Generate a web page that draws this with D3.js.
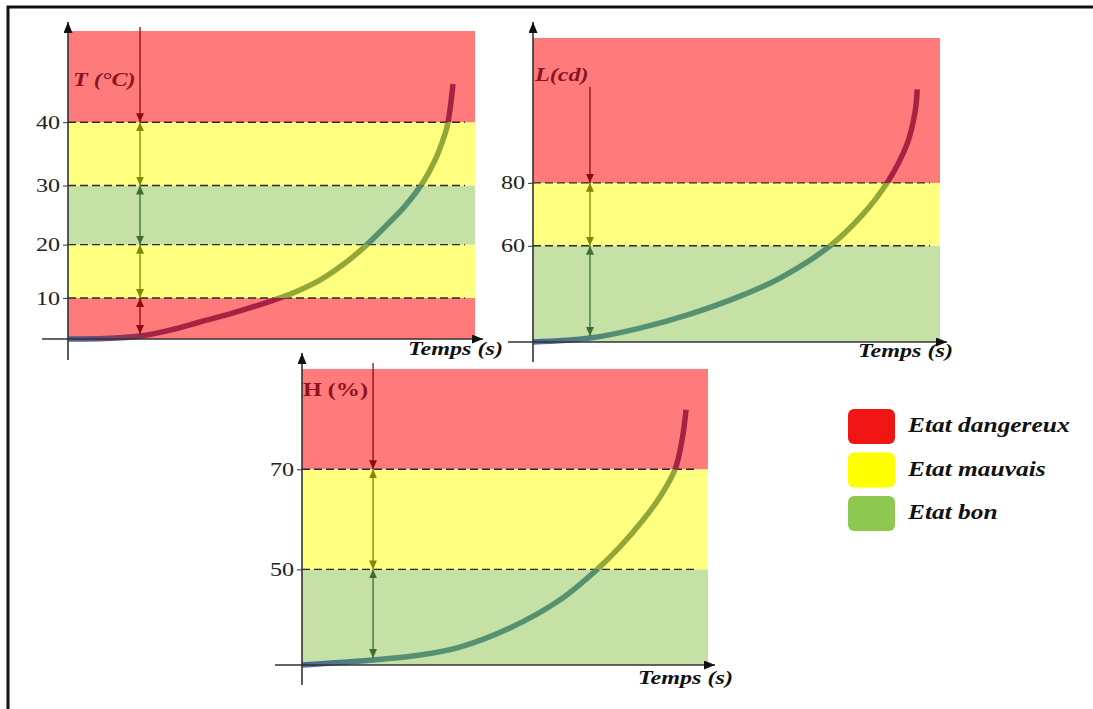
<!DOCTYPE html>
<html>

<head>
    <title>Etats des capteurs</title>
    <script src="https://cdn.jsdelivr.net/npm/d3@7"></script>
    <style>
        body {
            margin: 0;
            background: #fff;
        }

        text {
            font-family: "Liberation Serif", "Times New Roman", serif;
        }
    </style>
</head>

<body>
    <script>
        // zone limits and states for each sensor
        const tempBounds = [0, 10, 20, 30, 40, 53.6];
        const tempStates = ["danger", "bad", "good", "bad", "danger"];
        const lumBounds = [0, 60, 80, 115.8];
        const lumStates = ["good", "bad", "danger"];
        const humBounds = [0, 50, 70, 85];
        const humStates = ["good", "bad", "danger"];

        // curves (time 0-100)
        const tempTime = [0, 9.1, 17.7, 25.1, 32.4, 42.3, 52.1, 57, 61.9, 68.1, 73, 77.9, 82.8, 87.2, 90.2, 92.1, 93.1, 93.9, 94.3, 94.6];
        const tempValues = [0, 0.25, 1.13, 2.8, 4.8, 7.3, 10, 11.6, 13.5, 16.7, 19.7, 23.1, 26.6, 30.5, 34.1, 37.2, 39.2, 42.1, 44.1, 45.8];
        const lumTime = [0, 14, 26.3, 38.6, 50.9, 60.7, 73, 81.1, 87, 91.9, 93.9, 94.4];
        const lumValues = [0, 9.7, 19.9, 29.6, 39.3, 47.5, 60, 70.6, 80, 90.6, 98.9, 104.2];
        const humTime = [0, 17.5, 29.1, 38.9, 51.2, 63.5, 72.7, 78.3, 84, 88.2, 91.9, 93.6, 94.6];
        const humValues = [0, 12.5, 17.3, 22.8, 32, 41.7, 50, 55.2, 60.8, 65.2, 70, 74.7, 79.3];

        const legendLabels = ["Etat dangereux", "Etat mauvais", "Etat bon"];
        const legendStates = ["danger", "bad", "good"];

        const bandColor = { danger: "#ff7b7b", bad: "#ffff80", good: "#c5e1a5" };
        const curveColor = { danger: "#9e1c3c", bad: "#8aa032", good: "#4c8a6d" };
        const arrowColor = { danger: "#8b0a0a", bad: "#7f8a00", good: "#3f6e35" };
        const legendColor = { danger: "#f01414", bad: "#ffff00", good: "#8dc850" };

        const width = 1093;
        const height = 709;

        const svg = d3.select('body')
            .append('svg')
            .attr('width', width)
            .attr('height', height)
        const defs = svg.append('defs')

        // text in the picture is stretched sideways
        function stretch(sel, k = 1.27) {
            sel.each(function () {
                const w = this.getComputedTextLength();
                d3.select(this).attr('textLength', w * k).attr('lengthAdjust', 'spacingAndGlyphs')
            })
        }

        function marker(id, color, w, l) {
            defs.append('marker')
                .attr('id', id)
                .attr('viewBox', '0 0 10 10')
                .attr('refX', 10).attr('refY', 5)
                .attr('markerUnits', 'userSpaceOnUse')
                .attr('markerWidth', l).attr('markerHeight', w)
                .attr('orient', 'auto-start-reverse')
                .attr('preserveAspectRatio', 'none')
                .append('path')
                .attr('d', 'M0,0 L10,5 L0,10 z')
                .attr('fill', color)
        }
        marker('axis-head', '#111', 9, 11)
        Object.keys(arrowColor).forEach(s => marker('head-' + s, arrowColor[s], 8, 9))

        // frame (only top and left edges are visible)
        svg.append('path')
            .attr('d', 'M8,709 V7 H1093')
            .attr('fill', 'none')
            .attr('stroke', '#111')
            .attr('stroke-width', 3)

        const panels = [
            {
                id: 'T', bounds: tempBounds, states: tempStates, time: tempTime, values: tempValues,
                expo: 1.2, x0: 68, x1: 475, yBase: 339, yTop: 31, axisTop: 22, axisBottom: 360,
                xLeft: 42, xRight: 483, label: 'T (°C)', labelItalic: true, labelX: 73, labelY: 86,
                arrowAt: 2, arrowTop: 27, timeX: 408, timeY: 355
            },
            {
                id: 'L', bounds: lumBounds, states: lumStates, time: lumTime, values: lumValues,
                expo: 1.75, x0: 533, x1: 940, yBase: 342, yTop: 38, axisTop: 22, axisBottom: 362,
                xLeft: 508, xRight: 947, label: 'L(cd)', labelItalic: true, labelX: 535, labelY: 81,
                arrowAt: 1, arrowTop: 87, timeX: 858, timeY: 357
            },
            {
                id: 'H', bounds: humBounds, states: humStates, time: humTime, values: humValues,
                expo: 2.13, x0: 302, x1: 708, yBase: 665, yTop: 369, axisTop: 353, axisBottom: 685,
                xLeft: 275, xRight: 715, label: 'H (%)', labelItalic: false, labelX: 303, labelY: 396,
                arrowAt: 1, arrowTop: 363, timeX: 638, timeY: 684
            }
        ]

        panels.forEach(p => {
            const g = svg.append('g')
            const x = d3.scaleLinear().domain([0, 100]).range([p.x0, p.x1])
            const y = d3.scalePow().exponent(p.expo)
                .domain([0, p.bounds[p.bounds.length - 1]])
                .range([p.yBase, p.yTop])
            const zones = p.states.map((s, i) => ({ state: s, lo: p.bounds[i], hi: p.bounds[i + 1], i: i }))
            const last = zones.length - 1

            // coloured bands
            g.selectAll('rect.band')
                .data(zones)
                .enter()
                .append('rect')
                .attr('class', 'band')
                .attr('x', p.x0)
                .attr('width', p.x1 - p.x0)
                .attr('y', d => y(d.hi))
                .attr('height', d => y(d.lo) - y(d.hi))
                .attr('fill', d => bandColor[d.state])

            // threshold lines
            const limits = p.bounds.slice(1, -1)
            g.selectAll('line.limit')
                .data(limits)
                .enter()
                .append('line')
                .attr('x1', p.x0).attr('x2', p.x1 - 10)
                .attr('y1', d => y(d)).attr('y2', d => y(d))
                .attr('stroke', '#2a2a2a')
                .attr('stroke-width', 1.4)
                .attr('stroke-dasharray', '8,4')

            // curve, coloured by the band it crosses
            const line = d3.line()
                .x((d, i) => x(p.time[i]))
                .y(d => y(d))
                .curve(d3.curveCatmullRom.alpha(0.5))
            zones.forEach(z => {
                const cid = 'clip-' + p.id + z.i
                defs.append('clipPath').attr('id', cid)
                    .append('rect')
                    .attr('x', p.x0 - 10)
                    .attr('width', p.x1 - p.x0 + 20)
                    .attr('y', z.i === last ? 0 : y(z.hi))
                    .attr('height', (z.i === 0 ? height : y(z.lo)) - (z.i === last ? 0 : y(z.hi)))
                const gid = 'grad-' + p.id + z.i
                const grad = defs.append('linearGradient').attr('id', gid)
                    .attr('gradientUnits', 'userSpaceOnUse')
                    .attr('x1', p.x0).attr('x2', p.x0 + 85)
                    .attr('y1', 0).attr('y2', 0)
                grad.append('stop').attr('offset', 0).attr('stop-color', '#3a5d96')
                grad.append('stop').attr('offset', 1).attr('stop-color', curveColor[z.state])
                g.append('path')
                    .datum(p.values)
                    .attr('d', line)
                    .attr('clip-path', 'url(#' + cid + ')')
                    .attr('fill', 'none')
                    .attr('stroke', 'url(#' + gid + ')')
                    .attr('stroke-width', 5.5)
                    .attr('stroke-opacity', 0.92)
            })

            // zone arrows
            const ax = x(p.time[p.arrowAt])
            const bottom = y(p.values[p.arrowAt]) - 2
            g.selectAll('line.zone')
                .data(zones)
                .enter()
                .append('line')
                .attr('x1', ax).attr('x2', ax)
                .attr('y1', d => d.i === last ? p.arrowTop : y(d.hi))
                .attr('y2', d => d.i === 0 ? bottom : y(d.lo))
                .attr('stroke', d => arrowColor[d.state])
                .attr('stroke-width', 1.3)
                .attr('marker-start', d => d.i === last ? null : 'url(#head-' + d.state + ')')
                .attr('marker-end', d => 'url(#head-' + d.state + ')')

            // axes
            g.append('line')
                .attr('x1', p.x0).attr('x2', p.x0)
                .attr('y1', p.axisBottom).attr('y2', p.axisTop)
                .attr('stroke', '#333').attr('stroke-width', 1.6)
                .attr('marker-end', 'url(#axis-head)')
            g.append('line')
                .attr('x1', p.xLeft).attr('x2', p.xRight)
                .attr('y1', p.yBase).attr('y2', p.yBase)
                .attr('stroke', '#333').attr('stroke-width', 1.6)
                .attr('marker-end', 'url(#axis-head)')

            const yAxis = g.append('g')
                .attr('transform', 'translate(' + p.x0 + ',0)')
                .call(d3.axisLeft(y).tickValues(limits).tickSize(5).tickPadding(3).tickSizeOuter(0))
            yAxis.select('.domain').remove()
            yAxis.selectAll('line').attr('stroke', '#333')
            yAxis.selectAll('text')
                .attr('font-size', 19)
                .attr('fill', '#222')
                .style('font-family', '"Liberation Serif", serif')
                .call(stretch)

            // titles
            g.append('text')
                .attr('x', p.labelX).attr('y', p.labelY)
                .attr('font-size', 19)
                .attr('font-weight', 'bold')
                .attr('font-style', p.labelItalic ? 'italic' : 'normal')
                .attr('fill', '#8c1420')
                .text(p.label)
                .call(stretch)
            g.append('text')
                .attr('x', p.timeX).attr('y', p.timeY)
                .attr('font-size', 19)
                .attr('font-weight', 'bold')
                .attr('font-style', 'italic')
                .attr('fill', '#111')
                .text('Temps (s)')
                .call(stretch)
        })

        // legend
        const legend = svg.append('g')
        const rows = legend.selectAll('g')
            .data(legendLabels)
            .enter()
            .append('g')
            .attr('transform', (d, i) => 'translate(848,' + (409 + i * 43.5) + ')')
        rows.append('rect')
            .attr('width', 47).attr('height', 35)
            .attr('rx', 6)
            .attr('fill', (d, i) => legendColor[legendStates[i]])
        rows.append('text')
            .attr('x', 60).attr('y', 23)
            .attr('font-size', 20)
            .attr('font-weight', 'bold')
            .attr('font-style', 'italic')
            .attr('fill', '#111')
            .text(d => d)
            .call(stretch)
    </script>
</body>

</html>
